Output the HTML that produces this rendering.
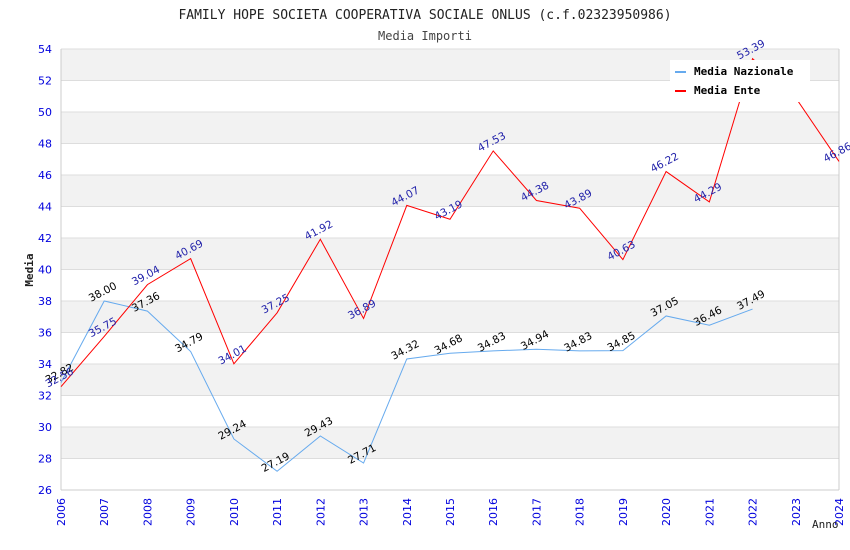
<!DOCTYPE html>
<html><head><meta charset="utf-8"><style>
body{margin:0;background:#fff;}
svg{display:block;font-family:"DejaVu Sans","Liberation Sans",sans-serif;}
.mono{font-family:"DejaVu Sans Mono","Liberation Mono",monospace;}
</style></head><body>
<svg id="chart" width="850" height="550" viewBox="0 0 850 550">
<text class="mono" x="425" y="19" text-anchor="middle" font-size="13" fill="#222">FAMILY HOPE SOCIETA COOPERATIVA SOCIALE ONLUS (c.f.02323950986)</text>
<text class="mono" x="425" y="40" text-anchor="middle" font-size="12" fill="#444">Media Importi</text>
<g id="grid"></g><g id="axes"></g><g id="series"></g><g id="labels"></g>
<g>
<rect x="670" y="60" width="140" height="42" fill="#fff"/>
<g><rect x="675" y="71" width="11" height="2" fill="#66aaee"/><text class="mono" x="694" y="75" font-size="11" font-weight="bold" fill="#000">Media Nazionale</text></g>
<g><rect x="675" y="90" width="11" height="2" fill="#ff0000"/><text class="mono" x="694" y="94" font-size="11" font-weight="bold" fill="#000">Media Ente</text></g>
</g>
<text class="mono" x="33" y="270" text-anchor="middle" font-size="11" font-weight="bold" fill="#222" transform="rotate(-90 33 270)">Media</text>
<text class="mono" x="812" y="528" font-size="11" fill="#222">Anno</text>
</svg>
<script>
const years=[2006,2007,2008,2009,2010,2011,2012,2013,2014,2015,2016,2017,2018,2019,2020,2021,2022,2023,2024];
const nazionale=[32.82,38.00,37.36,34.79,29.24,27.19,29.43,27.71,34.32,34.68,34.83,34.94,34.83,34.85,37.05,36.46,37.49];
const ente=[32.56,35.75,39.04,40.69,34.01,37.25,41.92,36.89,44.07,43.19,47.53,44.38,43.89,40.63,46.22,44.29,53.39,50.9,46.86];
const enteLabelIdx=[0,1,2,3,4,5,6,7,8,9,10,11,12,13,14,15,16,18];
const yTicks=[26,28,30,32,34,36,38,40,42,44,46,48,50,52,54];
const X0=61,X1=839,Y0=490,Y1=49;
const x=y=>X0+(y-2006)*(X1-X0)/(2024-2006);
const yv=v=>Y0-(v-26)*(Y0-Y1)/(54-26);
const NS="http://www.w3.org/2000/svg";
function mk(t,a,p){const e=document.createElementNS(NS,t);for(const k in a)e.setAttribute(k,a[k]);p.appendChild(e);return e;}
const grid=document.getElementById('grid'),axes=document.getElementById('axes'),ser=document.getElementById('series'),lab=document.getElementById('labels');
for(let i=0;i<yTicks.length-1;i++){if(i%2===1){const r=mk('rect',{x:X0,y:yv(yTicks[i+1]),width:X1-X0,height:yv(yTicks[i])-yv(yTicks[i+1]),fill:'#f2f2f2'},grid);

}}
yTicks.forEach(t=>{const l=mk('line',{x1:X0,x2:X1,y1:yv(t),y2:yv(t),stroke:'#dddddd'},grid);


const tx=mk('text',{x:X0-9,y:yv(t)+4,'text-anchor':'end','font-size':11,fill:'#0000dd'},axes);tx.textContent=t;

});
mk('line',{x1:X0,x2:X0,y1:Y1,y2:Y0,stroke:'#ccc'},axes);mk('line',{x1:X1,x2:X1,y1:Y1,y2:Y0,stroke:'#ccc'},axes);mk('line',{x1:X0,x2:X1,y1:Y0,y2:Y0,stroke:'#ccc'},axes);
years.forEach(yr=>{const px=x(yr),py=Y0+4;const tx=mk('text',{x:px,y:py,'text-anchor':'end','font-size':11,fill:'#0000dd',transform:`rotate(-90 ${px+4} ${py})`},axes);tx.textContent=yr;

});
function line(vals,col,name){const p=mk('polyline',{points:vals.map((v,i)=>x(years[i])+','+yv(v)).join(' '),fill:'none',stroke:col,'stroke-width':1},ser);

}
line(nazionale,'#66aaee','series-nazionale');
line(ente,'#ff0000','series-ente');
function labels(vals,idx,col,name){idx.forEach(i=>{const px=x(years[i]),py=yv(vals[i])-6;const t=mk('text',{x:px,y:py,'text-anchor':'middle','font-size':10.5,fill:col,transform:`rotate(-28 ${px} ${py})`},lab);t.textContent=vals[i].toFixed(2);

});}
labels(nazionale,nazionale.map((_,i)=>i),'#000','value-label-nazionale');
labels(ente,enteLabelIdx,'#2222aa','value-label-ente');
</script>
</body></html>
